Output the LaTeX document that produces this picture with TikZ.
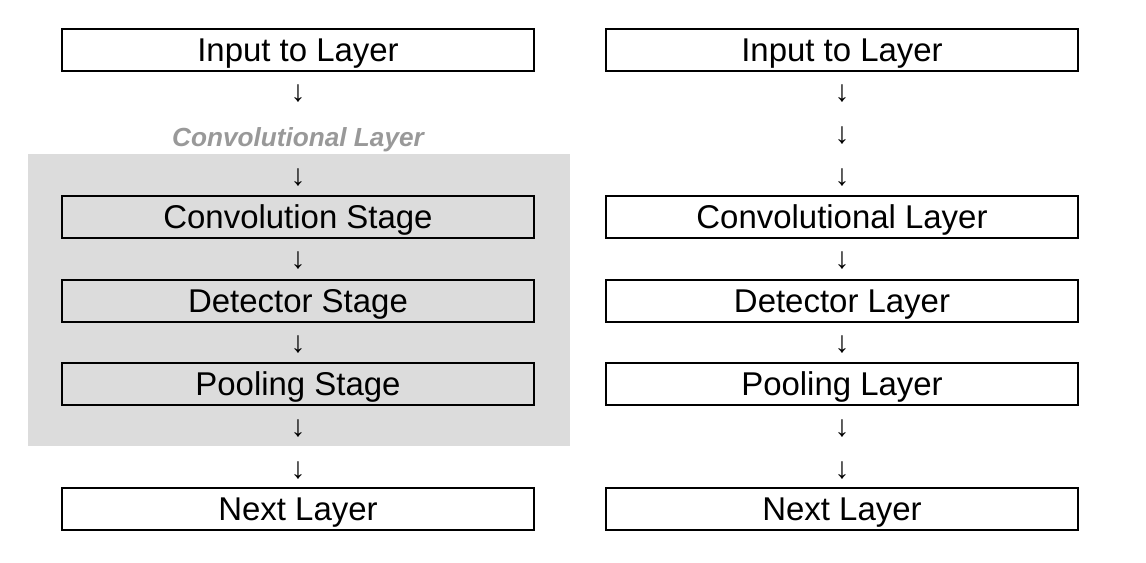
\documentclass[tikz,border=0pt]{standalone}
\usepackage{fontspec}
\setmainfont{Liberation Sans}
\usetikzlibrary{positioning}
\definecolor{stagegray}{HTML}{DCDCDC}
\definecolor{labelgray}{HTML}{999999}

\begin{document}
\begin{tikzpicture}
	[x=0.02cm,y=-0.02cm,
	layer node/.style={shape=rectangle,draw,line width=1.1pt,fill=white,minimum width=9.44cm,minimum height=0.84cm,inner sep=0pt,font=\fontsize{18.75}{20}\selectfont,text height=13.5pt,text depth=0pt},
	stage node/.style={layer node,fill=stagegray},
	down node/.style={inner sep=0pt,font=\fontsize{17}{18}\selectfont}
	]
	
	\useasboundingbox (0,0) rectangle (1146,562);
	\fill [stagegray] (28,154) rectangle (570,446);
	
	% left column
	\node [layer node] (in1) at (298,50) {Input to Layer};
	\node [down node] (a1) at (298,94) {↓};
	\node [font=\fontsize{14.9}{16}\selectfont\bfseries\itshape,text=labelgray,text height=10.7pt,text depth=0pt] (cl) at (298,137) {Convolutional Layer};
	\node [down node] (a2) at (298,178) {↓};
	\node [stage node] (conv) at (298,217) {Convolution Stage};
	\node [down node] (a3) at (298,261) {↓};
	\node [stage node] (det) at (298,301) {Detector Stage};
	\node [down node] (a4) at (298,345) {↓};
	\node [stage node] (pool) at (298,384) {Pooling Stage};
	\node [down node] (a5) at (298,429) {↓};
	\node [down node] (a6) at (298,471) {↓};
	\node [layer node] (next1) at (298,509) {Next Layer};
	
	% right column
	\node [layer node] (in2) at (842,50) {Input to Layer};
	\node [down node] (b1) at (842,94) {↓};
	\node [down node] (b2) at (842,136) {↓};
	\node [down node] (b3) at (842,178) {↓};
	\node [layer node] (convl) at (842,217) {Convolutional Layer};
	\node [down node] (b4) at (842,261) {↓};
	\node [layer node] (detl) at (842,301) {Detector Layer};
	\node [down node] (b5) at (842,345) {↓};
	\node [layer node] (pooll) at (842,384) {Pooling Layer};
	\node [down node] (b6) at (842,429) {↓};
	\node [down node] (b7) at (842,471) {↓};
	\node [layer node] (next2) at (842,509) {Next Layer};
	
\end{tikzpicture}
\end{document}
